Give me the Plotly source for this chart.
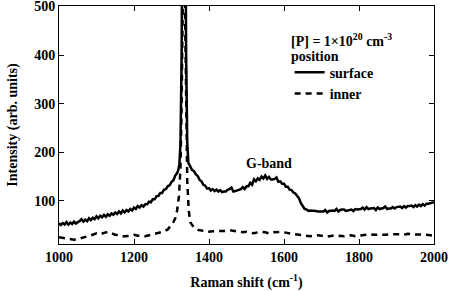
import plotly.graph_objects as go

# Raman shift (cm^-1) and intensity for the "surface" spectrum
x_surface = [1000, 1005, 1010, 1015, 1020, 1025, 1030, 1035, 1040, 1045,
             1050, 1055, 1060, 1065, 1070, 1075, 1080, 1085, 1090, 1095,
             1100, 1105, 1110, 1115, 1120, 1125, 1130, 1135, 1140, 1145,
             1150, 1155, 1160, 1165, 1170, 1175, 1180, 1185, 1190, 1195,
             1200, 1205, 1210, 1215, 1220, 1225, 1230, 1235, 1240, 1245,
             1250, 1255, 1260, 1265, 1270, 1275, 1280, 1285, 1290, 1295,
             1300, 1305, 1310, 1315, 1318, 1321, 1324, 1327, 1330, 1333,
             1336, 1339, 1342, 1345, 1350, 1355, 1360, 1365, 1370, 1375,
             1380, 1385, 1390, 1395, 1400, 1405, 1410, 1415, 1420, 1425,
             1430, 1435, 1440, 1445, 1450, 1455, 1460, 1465, 1470, 1475,
             1480, 1485, 1490, 1495, 1500, 1505, 1510, 1515, 1520, 1525,
             1530, 1535, 1540, 1545, 1550, 1555, 1560, 1565, 1570, 1575,
             1580, 1585, 1590, 1595, 1600, 1605, 1610, 1615, 1620, 1625,
             1630, 1635, 1640, 1645, 1650, 1655, 1660, 1665, 1670, 1675,
             1680, 1685, 1690, 1695, 1700, 1705, 1710, 1715, 1720, 1725,
             1730, 1735, 1740, 1745, 1750, 1755, 1760, 1765, 1770, 1775,
             1780, 1785, 1790, 1795, 1800, 1805, 1810, 1815, 1820, 1825,
             1830, 1835, 1840, 1845, 1850, 1855, 1860, 1865, 1870, 1875,
             1880, 1885, 1890, 1895, 1900, 1905, 1910, 1915, 1920, 1925,
             1930, 1935, 1940, 1945, 1950, 1955, 1960, 1965, 1970, 1975,
             1980, 1985, 1990, 1995, 2000]
y_surface = [54, 50, 54, 51, 56, 51, 55, 52, 57, 53,
             56, 58, 62, 57, 61, 58, 64, 60, 65, 62,
             68, 64, 69, 66, 71, 67, 72, 69, 74, 71,
             76, 73, 78, 74, 80, 76, 81, 78, 83, 80,
             86, 83, 89, 86, 91, 88, 93, 93, 98, 97,
             103, 103, 109, 110, 116, 116, 123, 124, 130, 132,
             139, 142, 152, 157, 163, 175, 220, 400, 900, 1200,
             900, 400, 220, 178, 171, 163, 161, 154, 151, 143,
             140, 133, 131, 125, 126, 121, 124, 120, 123, 119,
             122, 118, 119, 119, 123, 124, 127, 119, 120, 121,
             122, 124, 128, 124, 130, 130, 137, 133, 144, 140,
             146, 143, 150, 146, 152, 145, 149, 144, 144, 145,
             148, 139, 140, 135, 135, 129, 129, 123, 122, 117,
             115, 109, 105, 95, 89, 83, 82, 79, 80, 80,
             79, 79, 78, 78, 77, 78, 81, 76, 79, 80,
             80, 79, 83, 78, 81, 82, 82, 79, 80, 81,
             82, 79, 83, 82, 83, 83, 86, 82, 87, 83,
             84, 84, 85, 81, 86, 83, 84, 85, 88, 83,
             84, 84, 87, 84, 87, 87, 88, 85, 89, 86,
             89, 89, 90, 87, 91, 88, 92, 89, 93, 90,
             94, 94, 95, 96, 97]

# "inner" spectrum
x_inner = [1000, 1010, 1020, 1030, 1040, 1050, 1060, 1070, 1080, 1090, 1100, 1110, 1120, 1130, 1140,
           1150, 1160, 1170, 1180, 1190, 1200, 1210, 1220, 1230, 1240, 1250, 1260, 1270, 1280, 1290,
           1300, 1305, 1310, 1315, 1320, 1324, 1327, 1330, 1333, 1336, 1339, 1342, 1346, 1350, 1355,
           1360, 1370, 1380, 1390, 1400, 1410, 1420, 1430, 1440, 1450, 1460, 1470, 1480, 1490, 1500,
           1510, 1520, 1530, 1540, 1550, 1560, 1570, 1580, 1590, 1600, 1610, 1620, 1630, 1640, 1650,
           1660, 1670, 1680, 1690, 1700, 1710, 1720, 1730, 1740, 1750, 1760, 1770, 1780, 1790, 1800,
           1810, 1820, 1830, 1840, 1850, 1860, 1870, 1880, 1890, 1900, 1910, 1920, 1930, 1940, 1950,
           1960, 1970, 1980, 1990, 2000]
y_inner = [25, 24, 22, 22, 20, 21, 23, 25, 28, 30, 33, 31, 34, 36, 33,
           30, 29, 27, 27, 29, 30, 28, 27, 27, 29, 31, 33, 34, 37, 41,
           50, 56, 64, 80, 110, 170, 300, 600, 700, 500, 250, 140, 80, 56, 50,
           45, 40, 39, 36, 36, 37, 38, 38, 37, 38, 39, 37, 36, 35, 36,
           34, 33, 35, 36, 35, 33, 35, 36, 36, 35, 33, 32, 31, 30, 29,
           28, 27, 28, 29, 28, 26, 27, 28, 27, 28, 27, 28, 29, 27, 28,
           29, 30, 31, 30, 30, 29, 30, 31, 31, 32, 31, 30, 32, 31, 31,
           30, 31, 30, 29, 28]

assert len(x_surface) == len(y_surface)
assert len(x_inner) == len(y_inner)

x_ticks = [1000, 1200, 1400, 1600, 1800, 2000]
y_ticks = [100, 200, 300, 400, 500]

FONT = "Liberation Serif"
FS = 14

fig = go.Figure()
fig.add_trace(go.Scatter(x=x_surface, y=y_surface, mode="lines", name="<b>surface</b>",
                         line=dict(color="black", width=2.5)))
fig.add_trace(go.Scatter(x=x_inner, y=y_inner, mode="lines", name="<b>inner</b>",
                         line=dict(color="black", width=2.5, dash="6px,5px")))

fig.add_annotation(x=1561, y=177, text="<b>G-band</b>", showarrow=False,
                   font=dict(family=FONT, size=FS, color="black"))
fig.add_annotation(xref="paper", yref="paper", x=0.613, y=0.857, xanchor="left", yanchor="middle",
                   text="<b>[P] = 1×10<sup>20</sup> cm<sup>-3</sup></b>", showarrow=False,
                   font=dict(family=FONT, size=FS, color="black"))
fig.add_annotation(xref="paper", yref="paper", x=0.613, y=0.786, xanchor="left", yanchor="middle",
                   text="<b>position</b>", showarrow=False,
                   font=dict(family=FONT, size=FS, color="black"))

axis_common = dict(showline=True, linecolor="black", linewidth=1, mirror="ticks",
                   ticks="inside", ticklen=5, tickwidth=1, tickcolor="black",
                   showgrid=False, zeroline=False, ticklabeloverflow="allow",
                   automargin=False,
                   tickfont=dict(family=FONT, size=FS, color="black"))

fig.update_xaxes(range=[1000, 2000], tickvals=x_ticks, ticktext=[f"<b>{v}</b>" for v in x_ticks],
                 title=dict(text="<b>Raman shift (cm<sup>-1</sup>)</b>", standoff=17,
                            font=dict(family=FONT, size=FS, color="black")),
                 **axis_common)
fig.update_yaxes(range=[11, 501], tickvals=y_ticks, ticktext=[f"<b>{v}</b>" for v in y_ticks],
                 title=dict(text="<b>Intensity (arb. units)</b>", standoff=13,
                            font=dict(family=FONT, size=FS, color="black")),
                 **axis_common)

fig.update_layout(
    width=453, height=291,
    margin=dict(l=59, r=19, t=6, b=47),
    plot_bgcolor="white", paper_bgcolor="white",
    font=dict(family=FONT, size=FS, color="black"),
    legend=dict(x=0.615, y=0.787, xanchor="left", yanchor="top",
                bgcolor="rgba(0,0,0,0)", borderwidth=0,
                font=dict(family=FONT, size=FS, color="black"),
                tracegroupgap=0, itemwidth=30),
    showlegend=True,
)

fig.write_html("out.html")
